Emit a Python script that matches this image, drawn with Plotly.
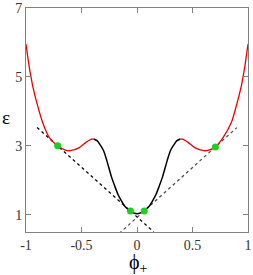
import plotly.graph_objects as go

# Red branch, left side (phi, epsilon)
red_left_x = [-1.0, -0.97, -0.955, -0.94, -0.895, -0.85, -0.79, -0.715, -0.64, -0.60, -0.52, -0.46, -0.42, -0.39]
red_left_y = [5.95, 5.27, 5.0, 4.74, 4.16, 3.68, 3.24, 3.0, 2.87, 2.86, 2.95, 3.10, 3.18, 3.20]

# Black branch (middle)
black_x = [-0.39, -0.36, -0.33, -0.30, -0.27, -0.23, -0.20, -0.17, -0.14, -0.11, -0.06, -0.03, 0.0,
           0.03, 0.06, 0.11, 0.14, 0.17, 0.20, 0.23, 0.27, 0.30, 0.33, 0.36, 0.39]
black_y = [3.20, 3.15, 3.02, 2.85, 2.55, 2.10, 1.83, 1.58, 1.40, 1.25, 1.11, 1.05, 1.03,
           1.05, 1.11, 1.25, 1.40, 1.58, 1.83, 2.10, 2.55, 2.85, 3.02, 3.15, 3.20]

# Red branch, right side
red_right_x = [0.39, 0.42, 0.46, 0.52, 0.60, 0.64, 0.706, 0.775, 0.85, 0.895, 0.94, 0.955, 0.97, 1.0]
red_right_y = [3.20, 3.18, 3.10, 2.95, 2.86, 2.87, 2.97, 3.24, 3.68, 4.16, 4.74, 5.0, 5.27, 5.95]

# Common-tangent (dotted) lines
tan_left_x = [-0.9, 0.15]
tan_left_y = [3.534, 0.504]
tan_right_x = [-0.16, 0.9]
tan_right_y = [0.46, 3.53]

# Tangent points (green)
dot_x = [-0.715, -0.059, 0.065, 0.706]
dot_y = [3.0, 1.107, 1.107, 2.97]

x_ticks = [-1, -0.5, 0, 0.5, 1]
x_tick_text = ["-1", "-0.5", "0", "0.5", "1"]
y_ticks = [1, 3, 5, 7]
x_title = "ϕ<sub>+</sub>"
y_title = "ε"

fig = go.Figure()
fig.add_trace(go.Scatter(x=tan_left_x, y=tan_left_y, mode="lines",
                         line=dict(color="black", width=1.2, dash="dot")))
fig.add_trace(go.Scatter(x=tan_right_x, y=tan_right_y, mode="lines",
                         line=dict(color="#444444", width=1.2, dash="dot")))
fig.add_trace(go.Scatter(x=red_left_x, y=red_left_y, mode="lines",
                         line=dict(color="#ee0000", width=1.3, shape="spline", smoothing=0.8)))
fig.add_trace(go.Scatter(x=red_right_x, y=red_right_y, mode="lines",
                         line=dict(color="#ee0000", width=1.3, shape="spline", smoothing=0.8)))
fig.add_trace(go.Scatter(x=black_x, y=black_y, mode="lines",
                         line=dict(color="black", width=1.5, shape="spline", smoothing=0.8)))
fig.add_trace(go.Scatter(x=dot_x, y=dot_y, mode="markers",
                         marker=dict(color="#22cc22", size=7, line=dict(width=0))))

font_family = '"Liberation Serif", "Times New Roman", Times, serif'
fig.update_layout(
    width=253, height=275,
    margin=dict(l=26, r=5, t=8, b=43),
    paper_bgcolor="white", plot_bgcolor="white",
    showlegend=False,
    font=dict(family=font_family, size=14, color="#333333"),
)
fig.update_xaxes(range=[-1, 1], tickvals=x_ticks, ticktext=x_tick_text,
                 ticks="inside", ticklen=5, tickcolor="#808080",
                 showline=True, linecolor="#808080", linewidth=1, mirror="ticks",
                 showgrid=False, zeroline=False, automargin=False)
fig.update_yaxes(range=[0.5, 7], tickvals=y_ticks,
                 ticks="inside", ticklen=5, tickcolor="#808080",
                 showline=True, linecolor="#808080", linewidth=1, mirror="ticks",
                 showgrid=False, zeroline=False, automargin=False)
fig.add_annotation(text=x_title, xref="paper", yref="paper", x=0.505, y=-0.075,
                   xanchor="center", yanchor="top", showarrow=False,
                   font=dict(size=20, color="black", family=font_family))
fig.add_annotation(text=y_title, xref="paper", yref="paper", x=-0.115, y=0.512,
                   xanchor="left", yanchor="middle", showarrow=False,
                   font=dict(size=19, color="black", family=font_family))

fig.write_html("out.html", config={"displayModeBar": False},
               post_script="document.body.style.margin='0';document.body.style.overflow='hidden';")
